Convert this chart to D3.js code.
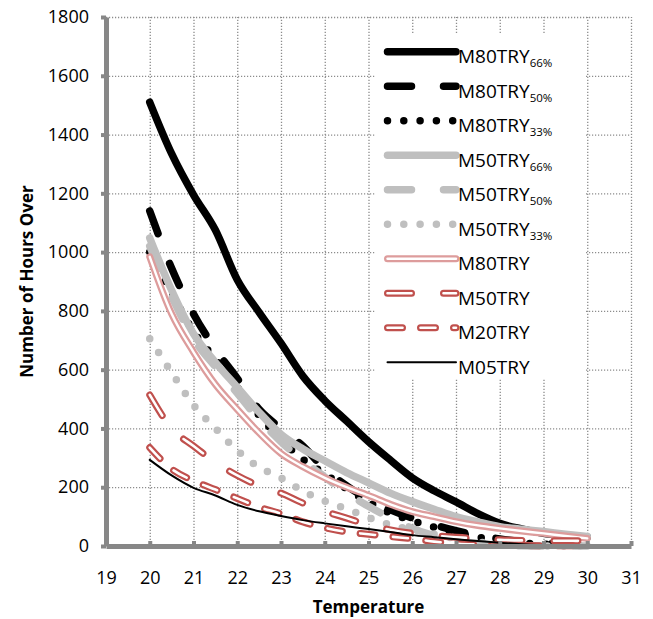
<head>
    <script src="https://d3js.org/d3.v7.min.js"></script>
    <style>
        body { margin: 0; background: #fff; }
        text { font-family: "Open Sans", sans-serif; }
        .grid line { stroke: #8c8c8c; stroke-width: 1.3; stroke-dasharray: 1.2,1.8; }
        .grid .domain { stroke: none; }
        .axis .domain { stroke: #878787; stroke-width: 5; }
        .axis .tick line { stroke: #878787; stroke-width: 4; }
        .axis text { font-size: 18px; fill: #000; }
    </style>
</head>

<body>
<svg id="plot" width="653" height="619"></svg>
<script>
    //data
    const temps = [20, 20.5, 21, 21.5, 22, 22.5, 23, 23.5, 24, 24.5, 25, 25.5, 26, 26.5, 27, 27.5, 28, 28.5, 29, 29.5, 30];

    const m80try66 = [1510, 1335, 1195, 1075, 906, 795, 690, 578, 495, 425, 355, 292, 232, 188, 150, 110, 77, 58, 43, 36, 30];
    const m80try50 = [1140, 945, 790, 670, 570, 465, 400, 340, 262, 205, 158, 123, 95, 72, 52, 36, 24, 15, 9, 5, 3];
    const m80try33 = [1000, 860, 730, 635, 540, 445, 362, 295, 245, 195, 150, 112, 86, 64, 45, 30, 18, 10, 6, 3, 2];
    const m50try66 = [1048, 870, 722, 625, 540, 455, 380, 330, 290, 250, 215, 180, 151, 125, 100, 82, 66, 57, 49, 40, 32];
    const m50try50 = [1020, 850, 705, 610, 520, 430, 355, 290, 235, 180, 135, 95, 60, 35, 18, 8, 3, 1, 0, 0, 0];
    const m50try33 = [705, 590, 480, 400, 325, 268, 232, 187, 153, 126, 97, 72, 55, 40, 25, 14, 6, 2, 0, 0, 0];
    const m80try = [984, 790, 660, 550, 465, 385, 315, 270, 232, 200, 172, 142, 117, 100, 83, 70, 60, 51, 43, 34, 26];
    const m50try = [514, 400, 340, 285, 240, 205, 180, 146, 118, 95, 72, 55, 43, 35, 30, 25, 21, 19, 18, 18, 17];
    const m20try = [335, 262, 222, 192, 162, 132, 110, 82, 62, 48, 40, 32, 25, 15, 8, 5, 3, 2, 1, 1, 0];
    const m05try = [293, 240, 198, 172, 140, 118, 102, 88, 77, 67, 58, 48, 37, 30, 23, 17, 11, 6, 3, 1, 0];

    const seriesNames = ["M80TRY", "M80TRY", "M80TRY", "M50TRY", "M50TRY", "M50TRY", "M80TRY", "M50TRY", "M20TRY", "M05TRY"];
    const seriesSubs = ["66%", "50%", "33%", "66%", "50%", "33%", "", "", "", ""];
    const seriesValues = [m80try66, m80try50, m80try33, m50try66, m50try50, m50try33, m80try, m50try, m20try, m05try];

    const xTicks = [19, 20, 21, 22, 23, 24, 25, 26, 27, 28, 29, 30, 31];
    const yTicks = [0, 200, 400, 600, 800, 1000, 1200, 1400, 1600, 1800];

    //line looks, same order as the series
    const looks = [
        {color: "#000", width: 7.5, dash: null},
        {color: "#000", width: 7.5, dash: "24,32"},
        {color: "#000", width: 7.5, dash: "0,16.3"},
        {color: "#bfbfbf", width: 7.5, dash: null},
        {color: "#bfbfbf", width: 7.5, dash: "24,32"},
        {color: "#bfbfbf", width: 7.5, dash: "0,16.3"},
        {color: "#dd9c9c", width: 7, dash: null, inner: 2.4},
        {color: "#c0504d", width: 7, dash: "24,32", inner: 2.6},
        {color: "#c0504d", width: 7, dash: "15,18", inner: 2.6},
        {color: "#000", width: 2, dash: null}
    ];

    //chart setup
    const svg = d3.select("svg#plot");
    const margin = {top: 17, right: 22, bottom: 73, left: 106};
    const width = +svg.attr("width");
    const height = +svg.attr("height");
    const chartWidth = width - margin.left - margin.right;
    const chartHeight = height - margin.top - margin.bottom;

    const x = d3.scaleLinear().domain([19, 31]).range([margin.left, margin.left + chartWidth]);
    const y = d3.scaleLinear().domain([0, 1800]).range([margin.top + chartHeight, margin.top]);

    //gridlines
    svg.append("g").attr("class", "grid")
        .attr("transform", `translate(0, ${margin.top + chartHeight})`)
        .call(d3.axisBottom(x).tickValues(xTicks.slice(1)).tickSize(-chartHeight).tickFormat(""));
    svg.append("g").attr("class", "grid")
        .attr("transform", `translate(${margin.left}, 0)`)
        .call(d3.axisLeft(y).tickValues(yTicks.slice(1)).tickSize(-chartWidth).tickFormat(""));

    //series
    const line = d3.line()
        .x((d, i) => x(temps[i]))
        .y(d => y(d))
        .curve(d3.curveMonotoneX);

    seriesValues.forEach((vals, i) => {
        const lk = looks[i];
        const p = svg.append("path")
            .attr("d", line(vals))
            .attr("fill", "none")
            .attr("stroke", lk.color)
            .attr("stroke-width", lk.width)
            .attr("stroke-linecap", "round")
            .attr("stroke-linejoin", "round");
        if (lk.dash) p.attr("stroke-dasharray", lk.dash);
        if (lk.inner) {
            const q = svg.append("path")
                .attr("d", line(vals))
                .attr("fill", "none")
                .attr("stroke", "#fff")
                .attr("stroke-width", lk.inner)
                .attr("stroke-linecap", "round")
                .attr("stroke-linejoin", "round");
            if (lk.dash) q.attr("stroke-dasharray", lk.dash);
        }
    });

    //axes
    svg.append("g").attr("class", "axis")
        .attr("transform", `translate(${margin.left}, 0)`)
        .call(d3.axisLeft(y).tickValues(yTicks).tickFormat(d3.format("d"))
            .tickSizeInner(5).tickSizeOuter(0).tickPadding(12));
    svg.append("g").attr("class", "axis")
        .attr("transform", `translate(0, ${margin.top + chartHeight})`)
        .call(d3.axisBottom(x).tickValues(xTicks).tickFormat(d3.format("d"))
            .tickSizeInner(-5).tickSizeOuter(0).tickPadding(25));

    svg.append("text")
        .attr("x", (x(19) + x(31)) / 2)
        .attr("y", 613)
        .attr("text-anchor", "middle")
        .attr("font-weight", "bold")
        .attr("font-size", 17)
        .text("Temperature");
    svg.append("text")
        .attr("transform", `translate(33, ${(y(0) + y(1800)) / 2}) rotate(-90)`)
        .attr("text-anchor", "middle")
        .attr("font-weight", "bold")
        .attr("font-size", 17)
        .text("Number of Hours Over");

    //legend
    const legend = svg.append("g").attr("transform", "translate(376, 33)");
    legend.append("rect").attr("width", 210).attr("height", 345).attr("fill", "#fff");

    seriesNames.forEach((name, i) => {
        const lk = looks[i];
        const ly = 18.7 + i * 34.5;
        const seg = legend.append("line")
            .attr("x1", 11.5).attr("x2", 80).attr("y1", ly).attr("y2", ly)
            .attr("stroke", lk.color)
            .attr("stroke-width", lk.width)
            .attr("stroke-linecap", "round");
        if (lk.dash) seg.attr("stroke-dasharray", lk.dash);
        if (lk.inner) {
            const s2 = legend.append("line")
                .attr("x1", 11.5).attr("x2", 80).attr("y1", ly).attr("y2", ly)
                .attr("stroke", "#fff")
                .attr("stroke-width", lk.inner)
                .attr("stroke-linecap", "round");
            if (lk.dash) s2.attr("stroke-dasharray", lk.dash);
        }
        const t = legend.append("text")
            .attr("x", 82)
            .attr("y", ly + 11.6)
            .attr("font-size", 19);
        t.append("tspan").text(name);
        if (seriesSubs[i]) {
            t.append("tspan").attr("font-size", 11.5).attr("dy", 4).text(seriesSubs[i]);
        }
    });
</script>
</body>
